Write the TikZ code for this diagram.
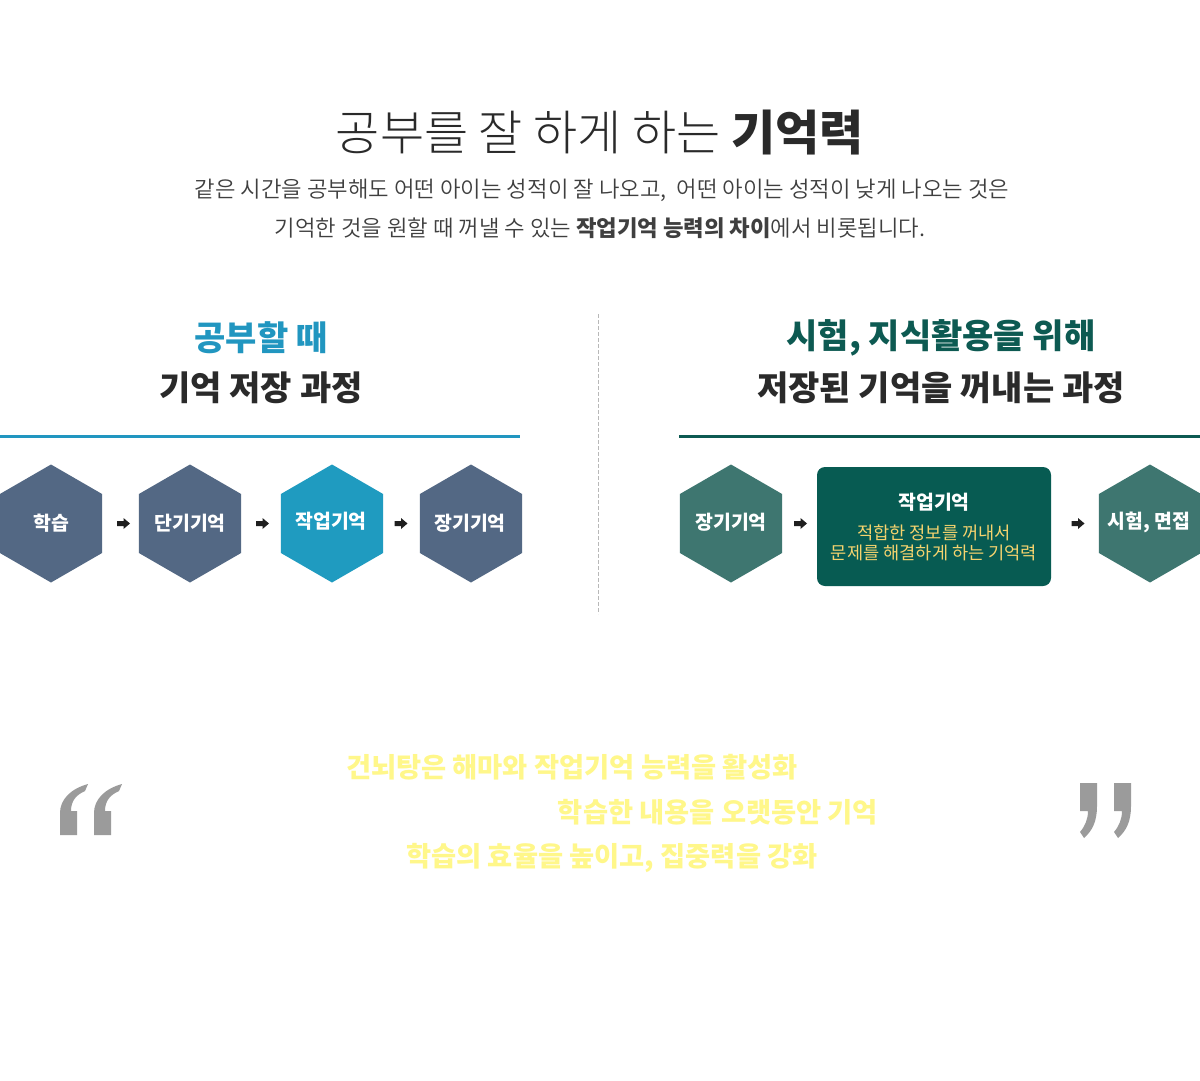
\documentclass[tikz,border=0pt]{standalone}
\usepackage{fontspec}
\setmainfont{Noto Sans CJK KR}
\IfFontExistsTF{Noto Sans CJK KR Light}{\newfontfamily\krlight{Noto Sans CJK KR Light}}{\newfontfamily\krlight{Noto Sans CJK KR}}
\IfFontExistsTF{Noto Sans CJK KR DemiLight}{\newfontfamily\krdemi{Noto Sans CJK KR DemiLight}}{\newfontfamily\krdemi{Noto Sans CJK KR}}
\usetikzlibrary{calc}
\definecolor{slatehex}{HTML}{536884}
\definecolor{cyanhex}{HTML}{1F9BC0}
\definecolor{tealhex}{HTML}{3E7670}
\definecolor{darkteal}{HTML}{075B52}
\definecolor{hdrblue}{HTML}{2196C0}
\definecolor{hdrgreen}{HTML}{0D5A52}
\definecolor{goldtxt}{HTML}{F5D36E}
\definecolor{lightyel}{HTML}{FFF78A}
\definecolor{quotegray}{HTML}{9B9B9B}
\definecolor{txt}{HTML}{2A2A2A}
\newcommand\HexAt[3]{\fill[#3, shift={(#1,#2)}] (90:59) -- (30:59) -- (-30:59) -- (-90:59) -- (-150:59) -- (150:59) -- cycle;}
\newcommand\ArrAt[2]{\fill[black!88, shift={(#1,#2)}] (-6.5,-2.5) -- (0,-2.5) -- (0,-5.5) -- (6.5,0) -- (0,5.5) -- (0,2.5) -- (-6.5,2.5) -- cycle;}
\newcommand\OpenQ[1]{\fill[quotegray, shift={(#1,0)}] (60,835) -- (77,835) -- (77,811) -- (71,811) .. controls (71,801) and (76,795) .. (85,791) -- (88,784) .. controls (70,789) and (60,800) .. (60,813) -- cycle;}
\newcommand\CloseQ[1]{\fill[quotegray, shift={(#1,0)}] (1080,783) -- (1097,783) -- (1097,806) .. controls (1097,822) and (1092,831) .. (1084,838) -- (1080,832) .. controls (1085,826) and (1088,819) .. (1088,811) -- (1080,811) -- cycle;}
\begin{document}
\begin{tikzpicture}[x=1pt,y=-1pt,
  titlefont/.style={font=\fontsize{48}{54}\selectfont\krlight, text=txt, inner sep=0},
  subfont/.style={font=\fontsize{22.3}{26}\selectfont\krdemi, text=txt!90, inner sep=0},
  hdrfont/.style={font=\fontsize{34}{40}\selectfont\bfseries, inner sep=0},
  hexlabel/.style={font=\fontsize{19.4}{23}\selectfont\bfseries, text=white, inner sep=0},
  goldlabel/.style={font=\fontsize{17.6}{21}\selectfont, text=goldtxt, inner sep=0},
  quotelabel/.style={font=\fontsize{27.3}{32}\selectfont\bfseries, text=lightyel, inner sep=0}]
\useasboundingbox[fill=white] (0,0) rectangle (1200,1081);

% title
\node[titlefont] (title) at (600,133) {공부를 잘 하게 하는 {\normalfont\bfseries 기억력}};
\node[subfont] (sub1) at (602,190) {같은 시간을 공부해도 어떤 아이는 성적이 잘 나오고,~ 어떤 아이는 성적이 낮게 나오는 것은};
\node[subfont] (sub2) at (600,228) {기억한 것을 원할 때 꺼낼 수 있는 {\normalfont\bfseries 작업기억 능력의 차이}에서 비롯됩니다.};

% headers
\node[hdrfont, text=hdrblue] (lh1) at (261,338) {공부할 때};
\node[hdrfont, text=txt] (lh2) at (261,388) {기억 저장 과정};
\node[hdrfont, text=hdrgreen] (rh1) at (941,338) {시험, 지식활용을 위해};
\node[hdrfont, text=txt] (rh2) at (941,388) {저장된 기억을 꺼내는 과정};

\draw[hdrblue, line width=3pt] (0,436.5) -- (520,436.5);
\draw[hdrgreen, line width=3pt] (679,436.5) -- (1200,436.5);
\draw[black!28, line width=1pt, dash pattern=on 4pt off 2pt] (598.5,314) -- (598.5,614);

% left flow
\HexAt{51}{523.5}{slatehex}
\HexAt{190}{523.5}{slatehex}
\HexAt{332}{523.5}{cyanhex}
\HexAt{471}{523.5}{slatehex}
\node[hexlabel] (h1) at (51,523) {학습};
\node[hexlabel] (h2) at (190,523) {단기기억};
\node[hexlabel] (h3) at (331,521) {작업기억};
\node[hexlabel] (h4) at (470,523) {장기기억};
\ArrAt{123.5}{523.5}
\ArrAt{262.5}{523.5}
\ArrAt{401}{523.5}

% right flow
\HexAt{731}{523.5}{tealhex}
\HexAt{1150}{523.5}{tealhex}
\node[fill=darkteal, rounded corners=8pt, minimum width=234pt, minimum height=119pt, inner sep=0] (wm) at (934,526.5) {};
\node[hexlabel] (r1) at (731,522) {장기기억};
\node[hexlabel] (r3) at (1149,522) {시험, 면접};
\node[hexlabel] (wmt) at (934,502) {작업기억};
\node[goldlabel] (wm1) at (934,533) {적합한 정보를 꺼내서};
\node[goldlabel] (wm2) at (934,553) {문제를 해결하게 하는 기억력};
\ArrAt{800.5}{523.5}
\ArrAt{1078}{523.5}

% quote
\OpenQ{0}
\OpenQ{34}
\CloseQ{0}
\CloseQ{34}
\node[quotelabel] (q1) at (572,767) {건뇌탕은 해마와 작업기억 능력을 활성화};
\node[quotelabel] (q2) at (718,812) {학습한 내용을 오랫동안 기억};
\node[quotelabel] (q3) at (612,858) {학습의 효율을 높이고, 집중력을 강화};
\end{tikzpicture}
\end{document}
